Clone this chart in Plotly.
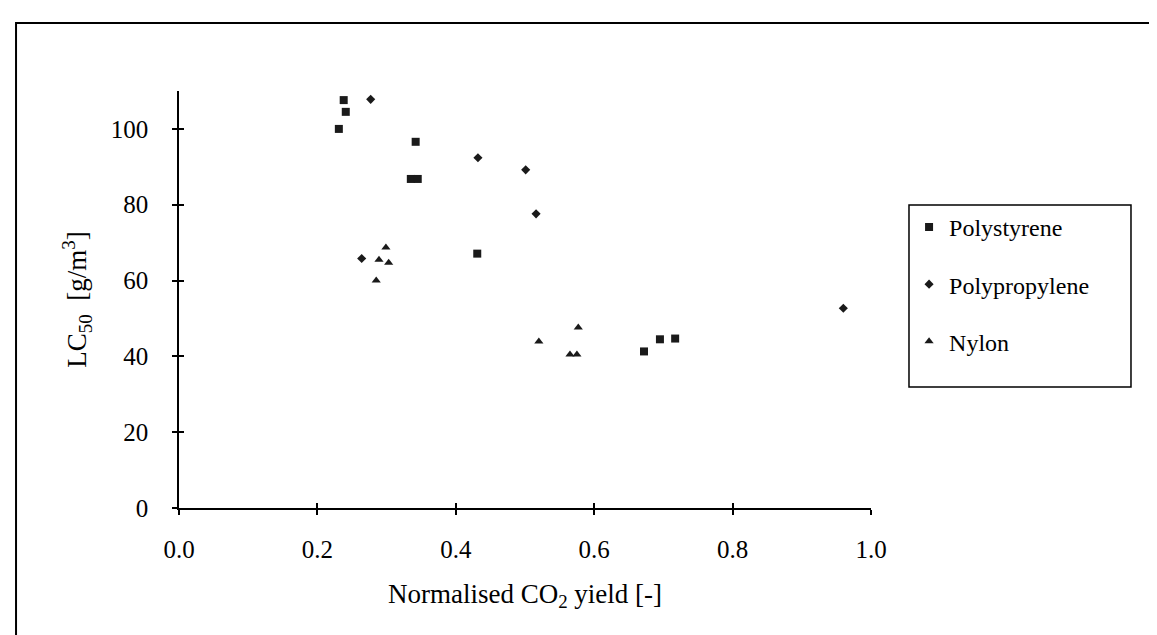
import plotly.graph_objects as go

# Polystyrene
ps_x = [0.231, 0.238, 0.241, 0.342, 0.335, 0.345, 0.431, 0.672, 0.695, 0.717]
ps_y = [100.0, 107.6, 104.5, 96.6, 86.8, 86.8, 67.1, 41.3, 44.5, 44.7]
# Polypropylene
pp_x = [0.277, 0.432, 0.501, 0.516, 0.264, 0.960]
pp_y = [107.8, 92.4, 89.2, 77.6, 65.8, 52.7]
# Nylon
ny_x = [0.299, 0.289, 0.303, 0.285, 0.520, 0.577, 0.565, 0.575]
ny_y = [68.7, 65.5, 64.7, 60.0, 43.9, 47.6, 40.5, 40.5]

x_ticks = [0, 0.2, 0.4, 0.6, 0.8, 1.0]
x_labels = ['0.0', '0.2', '0.4', '0.6', '0.8', '1.0']
y_ticks = [0, 20, 40, 60, 80, 100]

serif = "Liberation Serif"
ink = '#1a1a1a'

fig = go.Figure()
fig.add_trace(go.Scatter(x=ps_x, y=ps_y, mode='markers', name='Polystyrene', legendgroup='a',
                         marker=dict(symbol='square', size=8, color=ink)))
fig.add_trace(go.Scatter(x=pp_x, y=pp_y, mode='markers', name='Polypropylene', legendgroup='b',
                         marker=dict(symbol='diamond', size=7, color=ink)))
fig.add_trace(go.Scatter(x=ny_x, y=ny_y, mode='markers', name='Nylon', legendgroup='c',
                         marker=dict(symbol='triangle-up', size=8, color=ink)))

ax = dict(showgrid=False, zeroline=False, showline=True, linecolor='black', linewidth=1.5,
          ticks='outside', ticklen=5, tickcolor='black', tickwidth=1.5,
          tickfont=dict(family=serif, size=25, color='black'))

fig.update_layout(
    width=1157, height=635,
    margin=dict(l=171, r=294, t=83, b=135),
    paper_bgcolor='white', plot_bgcolor='white',
    font=dict(family=serif, color='black'),
    showlegend=True,
    legend=dict(x=1.055, y=0.727, xanchor='left', yanchor='top',
                borderwidth=0, bgcolor='rgba(0,0,0,0)',
                font=dict(family=serif, size=24, color='black'),
                tracegroupgap=23, entrywidth=190),
    xaxis=dict(ax, range=[0, 1.0], tickvals=x_ticks, ticktext=x_labels, ticklabelstandoff=13,
               title=dict(text='Normalised CO<sub>2</sub> yield [-]',
                          font=dict(family=serif, size=27, color='black'), standoff=22)),
    yaxis=dict(ax, range=[0, 110], tickvals=y_ticks, ticklabelstandoff=19,
               title=dict(text='LC<sub>50</sub>  [g/m<sup>3</sup>]',
                          font=dict(family=serif, size=27, color='black'), standoff=16)),
    xaxis2=dict(overlaying='x', matches='x', showline=False, showgrid=False, zeroline=False,
                ticks='inside', ticklen=5, tickcolor='black', tickwidth=1.5,
                tickvals=x_ticks, showticklabels=False, side='bottom'),
    yaxis2=dict(overlaying='y', matches='y', showline=False, showgrid=False, zeroline=False,
                ticks='inside', ticklen=5, tickcolor='black', tickwidth=1.5,
                tickvals=y_ticks, showticklabels=False, side='left'),
)
# empty trace so the inside-tick overlay axes get drawn
fig.add_trace(go.Scatter(x=[None], y=[None], xaxis='x2', yaxis='y2', showlegend=False, hoverinfo='skip'))

# legend box
fig.add_shape(type='rect', xref='paper', yref='paper', x0=1.0549, x1=1.3757, y0=0.2902, y1=0.7266,
              line=dict(color='black', width=1.5))
# outer frame round the whole chart
fig.add_shape(type='rect', xref='paper', yref='paper', x0=-0.2355, x1=1.4147, y0=-0.35, y1=1.163,
              line=dict(color='black', width=2))

fig.write_html("out.html")
